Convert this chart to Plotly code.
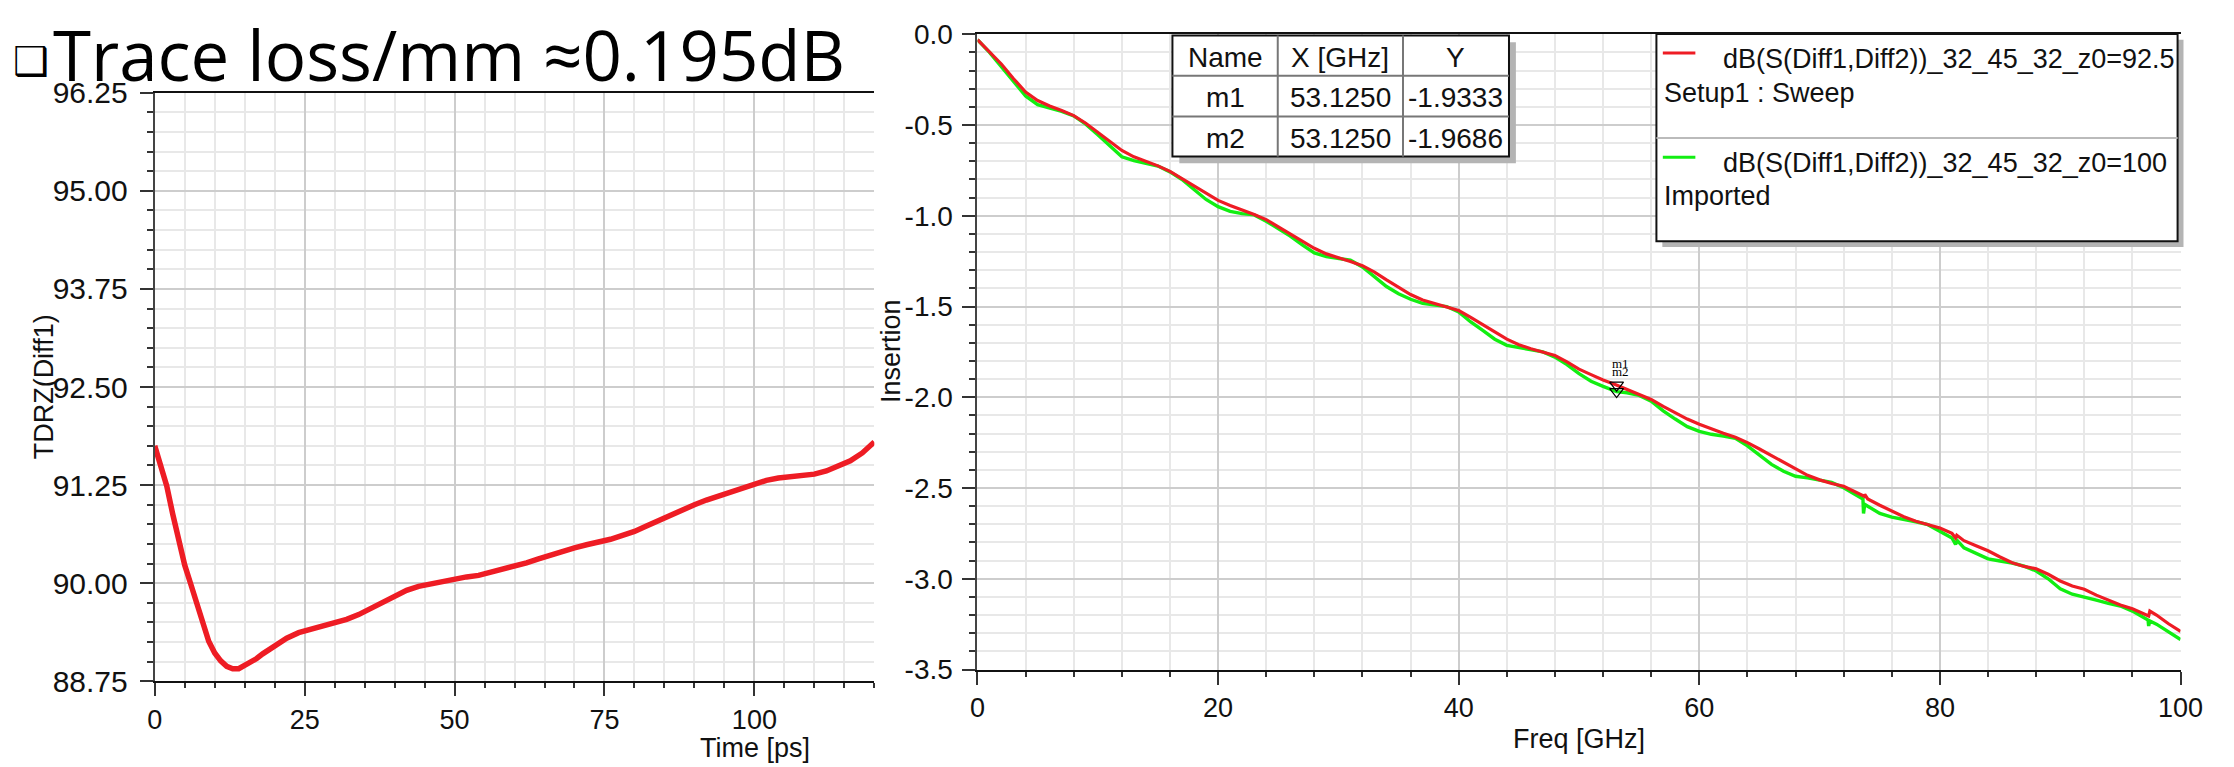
import plotly.graph_objects as go

W, H = 2234, 767

# ---------------- data ----------------
tdr_time_ps = [0, 1, 2, 3, 4, 5, 6, 7, 8, 9, 10, 11, 12, 13, 14, 15, 16, 17, 18, 20,
               22, 24, 26, 28, 30, 32, 34, 36, 38, 40, 42, 44, 46, 48, 50, 52, 54, 56,
               58, 60, 62, 64, 66, 68, 70, 72, 74, 76, 78, 80, 82, 84, 86, 88, 90, 92,
               94, 96, 98, 100, 102, 104, 106, 108, 110, 112, 114, 116, 118, 120]
tdr_z = [91.75, 91.52, 91.24, 90.88, 90.53, 90.23, 89.99, 89.74, 89.47, 89.26, 89.11,
         89.01, 88.94, 88.91, 88.91, 88.95, 88.99, 89.04, 89.10, 89.21, 89.30, 89.37,
         89.41, 89.45, 89.49, 89.54, 89.60, 89.68, 89.76, 89.84, 89.91, 89.96, 89.99,
         90.03, 90.05, 90.08, 90.10, 90.14, 90.17, 90.21, 90.26, 90.31, 90.36, 90.41,
         90.45, 90.49, 90.52, 90.56, 90.61, 90.66, 90.73, 90.80, 90.87, 90.94, 91.00,
         91.06, 91.11, 91.16, 91.21, 91.26, 91.31, 91.34, 91.36, 91.37, 91.39, 91.43,
         91.49, 91.56, 91.66, 91.80]

freq_red = [0, 1, 2, 3, 4, 5, 6, 7, 8, 9, 10, 11, 12, 13, 14, 15, 16, 17, 18, 19, 20,
            21, 22, 23, 24, 25, 26, 27, 28, 29, 30, 31, 32, 33, 34, 35, 36, 37, 38, 39,
            40, 41, 42, 43, 44, 45, 46, 47, 48, 49, 50, 51, 52, 53, 53.125, 54, 55, 56,
            57, 58, 59, 60, 61, 62, 63, 64, 65, 66, 67, 68, 69, 70, 71, 72, 73, 73.7,
            73.75, 74, 75, 76, 77, 78, 79, 80, 81, 81.3, 81.4, 82, 83, 84, 85, 86, 87,
            88, 89, 90, 91, 92, 93, 94, 95, 96, 97, 97.35, 97.45, 98, 99, 100]
ins_red = [-0.03, -0.10, -0.165, -0.245, -0.318, -0.365, -0.395, -0.42, -0.448, -0.49,
           -0.54, -0.59, -0.64, -0.675, -0.70, -0.725, -0.755, -0.795, -0.84, -0.88,
           -0.915, -0.943, -0.967, -0.993, -1.021, -1.06, -1.10, -1.14, -1.179, -1.21,
           -1.23, -1.252, -1.275, -1.31, -1.353, -1.395, -1.434, -1.464, -1.484, -1.502,
           -1.522, -1.56, -1.598, -1.64, -1.68, -1.71, -1.733, -1.75, -1.77, -1.805,
           -1.845, -1.875, -1.905, -1.93, -1.9333, -1.955, -1.985, -2.012, -2.05, -2.085,
           -2.12, -2.149, -2.175, -2.198, -2.22, -2.25, -2.285, -2.322, -2.36, -2.396,
           -2.43, -2.455, -2.475, -2.49, -2.525, -2.545, -2.535, -2.56, -2.595, -2.626,
           -2.658, -2.683, -2.70, -2.72, -2.75, -2.775, -2.76, -2.79, -2.818, -2.846,
           -2.88, -2.912, -2.932, -2.945, -2.975, -3.012, -3.04, -3.058, -3.09, -3.118,
           -3.145, -3.165, -3.195, -3.205, -3.178, -3.20, -3.248, -3.29]

freq_green = [0, 1, 2, 3, 4, 5, 6, 7, 8, 9, 10, 11, 12, 13, 14, 15, 16, 17, 18, 19, 20,
              21, 22, 23, 24, 25, 26, 27, 28, 29, 30, 31, 32, 33, 34, 35, 36, 37, 38, 39,
              40, 41, 42, 43, 44, 45, 46, 47, 48, 49, 50, 51, 52, 53, 53.125, 54, 55, 56,
              57, 58, 59, 60, 61, 62, 63, 64, 65, 66, 67, 68, 69, 70, 71, 72, 73, 73.6,
              73.65, 73.75, 74, 75, 76, 77, 78, 79, 80, 81, 81.3, 81.45, 82, 83, 84, 85,
              86, 87, 88, 89, 90, 91, 92, 93, 94, 95, 96, 97, 97.3, 97.35, 97.45, 98, 99,
              100]
ins_green = [-0.03, -0.10, -0.18, -0.26, -0.34, -0.388, -0.408, -0.425, -0.45, -0.495,
             -0.553, -0.615, -0.675, -0.696, -0.71, -0.726, -0.758, -0.80, -0.855, -0.91,
             -0.95, -0.976, -0.988, -0.995, -1.03, -1.07, -1.112, -1.16, -1.205, -1.225,
             -1.235, -1.245, -1.282, -1.335, -1.39, -1.43, -1.46, -1.483, -1.492, -1.50,
             -1.53, -1.585, -1.632, -1.68, -1.714, -1.727, -1.736, -1.75, -1.779, -1.82,
             -1.87, -1.912, -1.94, -1.965, -1.9686, -1.975, -1.99, -2.022, -2.075, -2.12,
             -2.162, -2.188, -2.204, -2.214, -2.226, -2.268, -2.32, -2.37, -2.408, -2.435,
             -2.444, -2.455, -2.469, -2.498, -2.538, -2.56, -2.64, -2.59, -2.60, -2.64,
             -2.66, -2.672, -2.686, -2.702, -2.737, -2.775, -2.81, -2.79, -2.83, -2.862,
             -2.89, -2.902, -2.913, -2.93, -2.957, -3.0, -3.055, -3.085, -3.10, -3.118,
             -3.135, -3.15, -3.178, -3.218, -3.228, -3.26, -3.232, -3.25, -3.292, -3.335]

marker_names = ["m1", "m2"]
marker_x = [53.125, 53.125]
marker_y = [-1.9333, -1.9686]
marker_x_text = ["53.1250", "53.1250"]
marker_y_text = ["-1.9333", "-1.9686"]
table_header = ["Name", "X [GHz]", "Y"]

left_y_ticks = [88.75, 90.00, 91.25, 92.50, 93.75, 95.00, 96.25]
left_y_ticktext = ["88.75", "90.00", "91.25", "92.50", "93.75", "95.00", "96.25"]
right_y_ticks = [0.0, -0.5, -1.0, -1.5, -2.0, -2.5, -3.0, -3.5]
right_y_ticktext = ["0.0", "-0.5", "-1.0", "-1.5", "-2.0", "-2.5", "-3.0", "-3.5"]

legend_names = ["dB(S(Diff1,Diff2))_32_45_32_z0=92.5", "dB(S(Diff1,Diff2))_32_45_32_z0=100"]
legend_sources = ["Setup1 : Sweep", "Imported"]

title_text = "Trace loss/mm ≈0.195dB"

RED = "#ee1c24"
GREEN = "#12ee12"
FONT = "Liberation Sans"


def px(x):
    return x / W


def py(y):
    return 1 - y / H


fig = go.Figure()

fig.add_trace(go.Scatter(x=tdr_time_ps, y=tdr_z, mode="lines",
                         line=dict(color=RED, width=5.5), xaxis="x", yaxis="y",
                         showlegend=False, hoverinfo="skip"))
fig.add_trace(go.Scatter(x=freq_green, y=ins_green, mode="lines", name=legend_names[1],
                         line=dict(color=GREEN, width=3.4), xaxis="x2", yaxis="y2",
                         showlegend=False))
fig.add_trace(go.Scatter(x=freq_red, y=ins_red, mode="lines", name=legend_names[0],
                         line=dict(color=RED, width=3.2), xaxis="x2", yaxis="y2",
                         showlegend=False))
fig.add_trace(go.Scatter(x=marker_x, y=marker_y, mode="markers",
                         marker=dict(symbol="triangle-down-open", size=12, color="black",
                                     line=dict(width=1.2)),
                         xaxis="x2", yaxis="y2", showlegend=False))

MAJ_GRID = "#cdcdcd"
MIN_GRID = "#e8e8e8"


def axis_style(size):
    return dict(showline=True, linewidth=2, ticks="outside", ticklen=13, tickwidth=2,
                tickcolor="#333333", showgrid=True, gridcolor=MAJ_GRID, gridwidth=1.6,
                zeroline=False, tickfont=dict(family=FONT, size=size, color="#111111"))


fig.update_layout(
    width=W, height=H, margin=dict(l=0, r=0, t=0, b=0),
    paper_bgcolor="white", plot_bgcolor="white",
    xaxis=dict(domain=[px(140.7), px(870.4)], range=[0, 120], anchor="y",
               tick0=0, dtick=25, linecolor="#111111", mirror=True,
               minor=dict(dtick=5, tick0=0, ticklen=5, tickwidth=1.5, tickcolor="#333333",
                          showgrid=True, gridcolor=MIN_GRID, gridwidth=1.5),
               ticklabelstandoff=0, **axis_style(27)),
    yaxis=dict(domain=[py(685.8), py(70.8)], range=[88.75, 96.25], anchor="x",
               tickmode="array", tickvals=left_y_ticks, ticktext=left_y_ticktext,
               linecolor="#444444",
               minor=dict(tickmode="linear", dtick=0.25, tick0=88.75, ticklen=6, tickwidth=1.5,
                          tickcolor="#333333", showgrid=True, gridcolor=MIN_GRID,
                          gridwidth=1.5),
               ticklabelstandoff=6, **axis_style(30)),
    xaxis2=dict(domain=[px(975), px(2195)], range=[0, 100], anchor="y2",
                tick0=0, dtick=20, linecolor="#111111", mirror=True,
                minor=dict(dtick=4, tick0=0, ticklen=5, tickwidth=1.5, tickcolor="#333333",
                           showgrid=True, gridcolor=MIN_GRID, gridwidth=1.5),
                ticklabelstandoff=0, **axis_style(27)),
    yaxis2=dict(domain=[py(673.5), py(9.7)], range=[-3.5, 0], anchor="x2",
                tickmode="array", tickvals=right_y_ticks, ticktext=right_y_ticktext,
                linecolor="#444444",
                minor=dict(tickmode="linear", dtick=0.1, tick0=0, ticklen=6, tickwidth=1.5,
                           tickcolor="#333333", showgrid=True, gridcolor=MIN_GRID,
                           gridwidth=1.5),
                ticklabelstandoff=4, **axis_style(28)),
)

annotations = []
shapes = []

# title
annotations.append(dict(x=px(15), y=py(38), xref="paper", yref="paper", text="❑",
                        showarrow=False, xanchor="center", yanchor="middle",
                        font=dict(family="DejaVu Sans", size=40, color="black")))
annotations.append(dict(x=px(35), y=py(30), xref="paper", yref="paper", text=title_text,
                        showarrow=False, xanchor="left", yanchor="middle",
                        font=dict(family="Open Sans", size=69, color="black")))

# axis titles
axis_title_font = dict(family=FONT, size=27, color="#111111")
annotations.append(dict(x=px(749), y=py(755), xref="paper", yref="paper", text="Time [ps]",
                        showarrow=False, xanchor="center", yanchor="middle",
                        font=axis_title_font))
annotations.append(dict(x=px(28), y=py(378), xref="paper", yref="paper", text="TDRZ(Diff1)",
                        showarrow=False, xanchor="center", yanchor="middle", textangle=-90,
                        font=axis_title_font))
annotations.append(dict(x=px(1585), y=py(746), xref="paper", yref="paper", text="Freq [GHz]",
                        showarrow=False, xanchor="center", yanchor="middle",
                        font=axis_title_font))
annotations.append(dict(x=px(888), y=py(341), xref="paper", yref="paper", text="Insertion",
                        showarrow=False, xanchor="center", yanchor="middle", textangle=-90,
                        font=axis_title_font))

# marker labels
for i, name in enumerate(marker_names):
    annotations.append(dict(x=marker_x[i], y=marker_y[i], xref="x2", yref="y2", text=name,
                            showarrow=False, xshift=4, yshift=22 - 2 * i,
                            font=dict(family="Liberation Serif", size=13, color="black")))

# marker table
tx0, tx1, ty0, ty1 = 1172.7, 1514.0, 11.0, 137.5
col_edges = [tx0, 1279.5, 1406.5, tx1]
row_edges = [ty0, 53.0, 95.5, ty1]
shapes.append(dict(type="rect", xref="paper", yref="paper", x0=px(tx0 + 7), x1=px(tx1 + 7),
                   y0=py(ty1 + 7), y1=py(ty0 + 7), fillcolor="#b4b4b4", line=dict(width=0),
                   layer="above"))
shapes.append(dict(type="rect", xref="paper", yref="paper", x0=px(tx0), x1=px(tx1),
                   y0=py(ty1), y1=py(ty0), fillcolor="white", line=dict(color="#111111", width=2),
                   layer="above"))
for cx in col_edges[1:-1]:
    shapes.append(dict(type="line", xref="paper", yref="paper", x0=px(cx), x1=px(cx),
                       y0=py(ty1), y1=py(ty0), line=dict(color="#777777", width=2),
                       layer="above"))
for ry in row_edges[1:-1]:
    shapes.append(dict(type="line", xref="paper", yref="paper", x0=px(tx0), x1=px(tx1),
                       y0=py(ry), y1=py(ry), line=dict(color="#777777", width=2),
                       layer="above"))
table_rows = [table_header] + [[marker_names[i], marker_x_text[i], marker_y_text[i]]
                               for i in range(len(marker_names))]
table_font = dict(family=FONT, size=28, color="#111111")
for r, row in enumerate(table_rows):
    cy = (row_edges[r] + row_edges[r + 1]) / 2 + 2
    for c, txt in enumerate(row):
        cx = (col_edges[c] + col_edges[c + 1]) / 2
        annotations.append(dict(x=px(cx), y=py(cy), xref="paper", yref="paper", text=txt,
                                showarrow=False, xanchor="center", yanchor="middle",
                                font=table_font))

# legend box
lx0, lx1, ly0, ly1 = 1663.5, 2192.0, 9.3, 226.0
shapes.append(dict(type="rect", xref="paper", yref="paper", x0=px(lx0 + 6), x1=px(lx1 + 6),
                   y0=py(ly1 + 6), y1=py(ly0 + 6), fillcolor="#b4b4b4", line=dict(width=0),
                   layer="above"))
shapes.append(dict(type="rect", xref="paper", yref="paper", x0=px(lx0), x1=px(lx1),
                   y0=py(ly1), y1=py(ly0), fillcolor="white", line=dict(color="#111111", width=2),
                   layer="above"))
shapes.append(dict(type="line", xref="paper", yref="paper", x0=px(lx0), x1=px(lx1),
                   y0=py(118), y1=py(118), line=dict(color="#bbbbbb", width=2), layer="above"))
legend_font = dict(family=FONT, size=27, color="#111111")
legend_colors = [RED, GREEN]
entry_line_y = [29.3, 138.3]
entry_name_y = [36.0, 144.0]
entry_src_y = [71.0, 179.0]
for i in range(2):
    shapes.append(dict(type="line", xref="paper", yref="paper", x0=px(1670), x1=px(1703),
                       y0=py(entry_line_y[i]), y1=py(entry_line_y[i]),
                       line=dict(color=legend_colors[i], width=3), layer="above"))
    annotations.append(dict(x=px(1729), y=py(entry_name_y[i]), xref="paper", yref="paper",
                            text=legend_names[i], showarrow=False, xanchor="left",
                            yanchor="middle", font=legend_font))
    annotations.append(dict(x=px(1669), y=py(entry_src_y[i]), xref="paper", yref="paper",
                            text=legend_sources[i], showarrow=False, xanchor="left",
                            yanchor="middle", font=legend_font))

fig.update_layout(annotations=annotations, shapes=shapes)

fig.write_html("out.html")
